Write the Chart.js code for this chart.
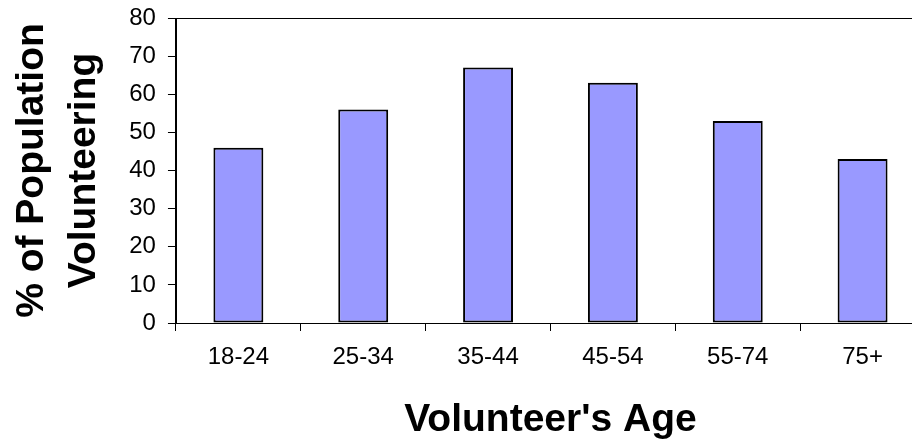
<!DOCTYPE html>
<html>
<head>
<meta charset="utf-8">
<script src="https://cdn.jsdelivr.net/npm/chart.js@4"></script>
<style>
  html, body { margin: 0; padding: 0; background: #fff; overflow: hidden; }
  #wrap { width: 940px; height: 443px; position: relative; }
</style>
</head>
<body>
<div id="wrap"><canvas id="chart"></canvas></div>
<script>
// Share of each age group that volunteers (%)
const ageGroups = ['18-24', '25-34', '35-44', '45-54', '55-74', '75+'];
const volunteeringPct = [46, 56, 67, 63, 53, 43];
const yTitleLines = ['% of Population', 'Volunteering'];
const xTitle = "Volunteer's Age";

const FONT = "'Liberation Sans', Arial, Helvetica, sans-serif";

// Outline around the plotting area
const frame = {
  id: 'frame',
  afterDraw(chart) {
    const { ctx, chartArea: a } = chart;
    ctx.save();
    ctx.strokeStyle = '#000';
    ctx.lineWidth = 1;
    ctx.strokeRect(Math.round(a.left) + 0.5, Math.round(a.top) + 0.5,
                   Math.round(a.right - a.left), Math.round(a.bottom - a.top));
    ctx.restore();
  }
};

new Chart(document.getElementById('chart'), {
  type: 'bar',
  data: {
    labels: ageGroups,
    datasets: [{
      data: volunteeringPct,
      backgroundColor: '#9999FF',
      borderColor: '#000',
      borderWidth: 2,
      borderSkipped: false,
      categoryPercentage: 1,
      barPercentage: 0.4
    }]
  },
  options: {
    responsive: true,
    maintainAspectRatio: false,
    animation: false,
    layout: { padding: { top: 18, right: 15, bottom: 0, left: 0 } },
    plugins: {
      legend: { display: false },
      tooltip: { enabled: false }
    },
    scales: {
      x: {
        grid: {
          offset: true,
          drawOnChartArea: false,
          drawTicks: true,
          tickLength: 8,
          color: '#000'
        },
        border: { display: true, color: '#000', width: 1 },
        ticks: {
          color: '#000',
          padding: 12,
          font: { family: FONT, size: 24 }
        },
        title: {
          display: true,
          text: xTitle,
          color: '#000',
          font: { family: FONT, size: 39, weight: 'bold', lineHeight: 1 },
          padding: { top: 16.7, bottom: 3.5 }
        }
      },
      y: {
        min: 0,
        max: 80,
        grid: {
          drawOnChartArea: false,
          drawTicks: true,
          tickLength: 8,
          color: '#000'
        },
        border: { display: true, color: '#000', width: 1 },
        ticks: {
          stepSize: 10,
          color: '#000',
          padding: 12,
          font: { family: FONT, size: 24, lineHeight: 0.5 }
        },
        title: {
          display: true,
          text: yTitleLines,
          color: '#000',
          font: { family: FONT, size: 39, weight: 'bold', lineHeight: 1.32 },
          padding: { top: 7, bottom: 7.3 }
        }
      }
    }
  },
  plugins: [frame]
});
</script>
</body>
</html>
